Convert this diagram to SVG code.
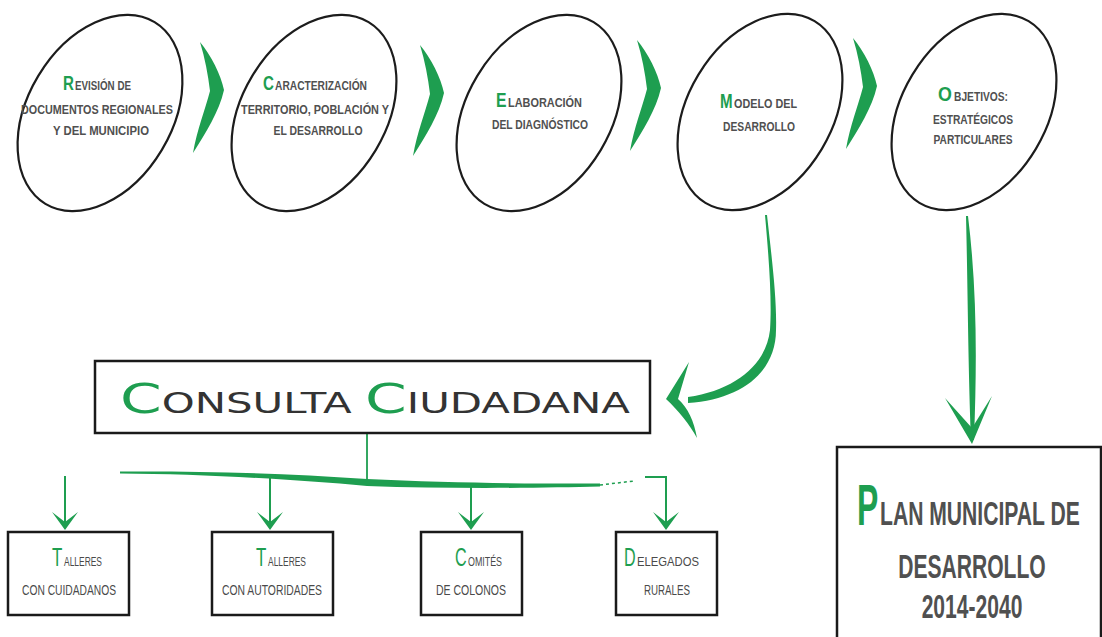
<svg xmlns="http://www.w3.org/2000/svg" width="1102" height="637" viewBox="0 0 1102 637">
<style>
.ell{fill:none;stroke:#1c1c1c;stroke-width:2.2}
.box{fill:#fff;stroke:#1a1a1a;stroke-width:2.5}
.g{fill:#1e9e50}
.t{font-family:"Liberation Sans",Arial,sans-serif;fill:#505050;font-weight:bold}
.tr{font-family:"Liberation Sans",Arial,sans-serif;fill:#4a4a4a}
.ir{fill:#1e9e50;font-weight:normal}
.ini{font-family:"Liberation Sans",Arial,sans-serif;fill:#1e9e50}
.inib{font-family:"Liberation Sans",Arial,sans-serif;fill:#1e9e50;font-weight:bold}
.gl{fill:none;stroke:#1e9e50;stroke-width:2}
.cs{font-family:"DejaVu Sans","Liberation Sans",sans-serif;fill:#333}
</style>
<defs>
<path id="chev" d="M 0 0 C 11 13, 21 33, 24 48 C 19 70, 6 90, -7 111 C -3 88, 5 68, 10 49 C 8 33, 5 16, 0 0 Z"/>
<path id="vhead" d="M -13 -17 L 0 1 L 13 -17 L 0 -7 Z"/>
</defs>
<rect width="1102" height="637" fill="#fff"/>

<g id="connectors">
  <use href="#chev" class="g" transform="translate(200,42)"/>
  <use href="#chev" class="g" transform="translate(420,45)"/>
  <use href="#chev" class="g" transform="translate(637,40)"/>
  <use href="#chev" class="g" transform="translate(853,38)"/>
  <path class="g" d="M 765 215 C 769 260, 772 300, 770 330 C 766 365, 735 390, 688 397 L 688 403 C 742 399, 776 372, 776 330 C 777 300, 772 260, 767 215 Z"/>
  <path class="g" d="M 689 362 L 666 399 C 678 410, 690 425, 697 438 C 694 421, 688 408, 678 399 Z"/>
  <path class="g" d="M 966 216 C 968 300, 968 360, 971 440 L 974 440 C 977 360, 977 290, 968 216 Z"/>
  <path class="g" d="M 945 398 L 972 444 L 992 396 L 972 428 Z"/>
  <line x1="367" y1="433" x2="367" y2="482" stroke="#1e9e50" stroke-width="1.8"/>
  <path class="g" d="M 120 471.5 C 200 471, 280 473, 367 479 C 450 483, 540 484, 600 483.5 L 600 486.5 C 540 488, 450 489, 367 486 C 290 479, 200 474, 120 473.5 Z"/>
  <path d="M 600 485 L 634 481" fill="none" stroke="#1e9e50" stroke-width="1.5" stroke-dasharray="3 3"/>
  <path class="gl" d="M 645 477 L 666 477 L 666 528"/>
  <use href="#vhead" class="g" transform="translate(666,529)"/>
  <line class="gl" x1="65" y1="476" x2="65" y2="528"/>
  <use href="#vhead" class="g" transform="translate(65,529)"/>
  <line class="gl" x1="270" y1="476" x2="270" y2="528"/>
  <use href="#vhead" class="g" transform="translate(270,529)"/>
  <line class="gl" x1="471" y1="486" x2="471" y2="528"/>
  <use href="#vhead" class="g" transform="translate(471,529)"/>
</g>

<g id="n1">
  <ellipse class="ell" cx="100" cy="113" rx="72" ry="106" transform="rotate(31 100 113)"/>
  <text class="inib" font-size="21" transform="translate(63,90) scale(0.72,1)">R</text>
  <text class="t" x="75" y="90" font-size="12.5" textLength="56" lengthAdjust="spacingAndGlyphs">EVISIÓN DE</text>
  <text class="t" x="97" y="114" font-size="13.5" text-anchor="middle" textLength="152" lengthAdjust="spacingAndGlyphs">DOCUMENTOS REGIONALES</text>
  <text class="t" x="101" y="135" font-size="13.5" text-anchor="middle" textLength="96" lengthAdjust="spacingAndGlyphs">Y DEL MUNICIPIO</text>
</g>
<g id="n2">
  <ellipse class="ell" cx="314" cy="113" rx="72" ry="106" transform="rotate(31 314 113)"/>
  <text class="inib" font-size="21" transform="translate(263,90) scale(0.72,1)">C</text>
  <text class="t" x="275" y="90" font-size="12.5" textLength="92" lengthAdjust="spacingAndGlyphs">ARACTERIZACIÓN</text>
  <text class="t" x="315" y="114" font-size="13.5" text-anchor="middle" textLength="148" lengthAdjust="spacingAndGlyphs">TERRITORIO, POBLACIÓN Y</text>
  <text class="t" x="318" y="135" font-size="13.5" text-anchor="middle" textLength="89" lengthAdjust="spacingAndGlyphs">EL DESARROLLO</text>
</g>
<g id="n3">
  <ellipse class="ell" cx="539" cy="113" rx="72" ry="106" transform="rotate(31 539 113)"/>
  <text class="inib" font-size="21" transform="translate(496,107) scale(0.75,1)">E</text>
  <text class="t" x="508" y="107" font-size="12.5" textLength="74" lengthAdjust="spacingAndGlyphs">LABORACIÓN</text>
  <text class="t" x="540" y="129" font-size="13.5" text-anchor="middle" textLength="96" lengthAdjust="spacingAndGlyphs">DEL DIAGNÓSTICO</text>
</g>
<g id="n4">
  <ellipse class="ell" cx="760" cy="112" rx="72" ry="106" transform="rotate(31 760 112)"/>
  <text class="inib" font-size="21" transform="translate(720,108) scale(0.72,1)">M</text>
  <text class="t" x="734" y="108" font-size="12.5" textLength="63" lengthAdjust="spacingAndGlyphs">ODELO DEL</text>
  <text class="t" x="759" y="131" font-size="13.5" text-anchor="middle" textLength="72" lengthAdjust="spacingAndGlyphs">DESARROLLO</text>
</g>
<g id="n5">
  <ellipse class="ell" cx="974" cy="112" rx="72" ry="106" transform="rotate(31 974 112)"/>
  <text class="inib" font-size="21" transform="translate(938,101) scale(0.85,1)">O</text>
  <text class="t" x="954" y="101" font-size="12.5" textLength="54" lengthAdjust="spacingAndGlyphs">BJETIVOS:</text>
  <text class="t" x="973" y="124" font-size="13.5" text-anchor="middle" textLength="80" lengthAdjust="spacingAndGlyphs">ESTRATÉGICOS</text>
  <text class="t" x="973" y="144" font-size="13.5" text-anchor="middle" textLength="79" lengthAdjust="spacingAndGlyphs">PARTICULARES</text>
</g>

<g id="consulta">
  <rect class="box" x="95" y="361" width="555" height="72"/>
  <text class="cs" x="120" y="413" font-size="28" textLength="510" lengthAdjust="spacingAndGlyphs"><tspan class="ir" font-size="40">C</tspan>ONSULTA <tspan class="ir" font-size="40">C</tspan>IUDADANA</text>
</g>

<g id="b1">
  <rect class="box" x="8" y="532" width="121" height="83"/>
  <text class="ini" font-size="26" transform="translate(52,566) scale(0.65,1)">T</text>
  <text class="tr" x="64" y="566" font-size="13" textLength="38" lengthAdjust="spacingAndGlyphs">ALLERES</text>
  <text class="tr" x="69" y="595" font-size="14" text-anchor="middle" textLength="94" lengthAdjust="spacingAndGlyphs">CON CUIDADANOS</text>
</g>
<g id="b2">
  <rect class="box" x="212" y="532" width="121" height="83"/>
  <text class="ini" font-size="26" transform="translate(256,566) scale(0.65,1)">T</text>
  <text class="tr" x="268" y="566" font-size="13" textLength="38" lengthAdjust="spacingAndGlyphs">ALLERES</text>
  <text class="tr" x="272" y="595" font-size="14" text-anchor="middle" textLength="100" lengthAdjust="spacingAndGlyphs">CON AUTORIDADES</text>
</g>
<g id="b3">
  <rect class="box" x="421" y="532" width="101" height="83"/>
  <text class="ini" font-size="26" transform="translate(455,566) scale(0.62,1)">C</text>
  <text class="tr" x="468" y="566" font-size="13" textLength="34" lengthAdjust="spacingAndGlyphs">OMITÉS</text>
  <text class="tr" x="471" y="595" font-size="14" text-anchor="middle" textLength="70" lengthAdjust="spacingAndGlyphs">DE COLONOS</text>
</g>
<g id="b4">
  <rect class="box" x="616" y="532" width="101" height="83"/>
  <text class="ini" font-size="26" transform="translate(624,566) scale(0.62,1)">D</text>
  <text class="tr" x="637" y="566" font-size="13" textLength="62" lengthAdjust="spacingAndGlyphs">ELEGADOS</text>
  <text class="tr" x="667" y="595" font-size="14" text-anchor="middle" textLength="46" lengthAdjust="spacingAndGlyphs">RURALES</text>
</g>

<g id="plan">
  <rect class="box" x="837" y="447" width="264" height="200"/>
  <text class="inib" font-size="58" transform="translate(857,525) scale(0.55,1)">P</text>
  <text class="t" font-size="33" transform="translate(880,525) scale(0.64,1)">LAN MUNICIPAL DE</text>
  <text class="t" font-size="34" text-anchor="middle" transform="translate(972,578) scale(0.62,1)">DESARROLLO</text>
  <text class="t" font-size="34" text-anchor="middle" transform="translate(972,618) scale(0.62,1)">2014-2040</text>
</g>
</svg>
